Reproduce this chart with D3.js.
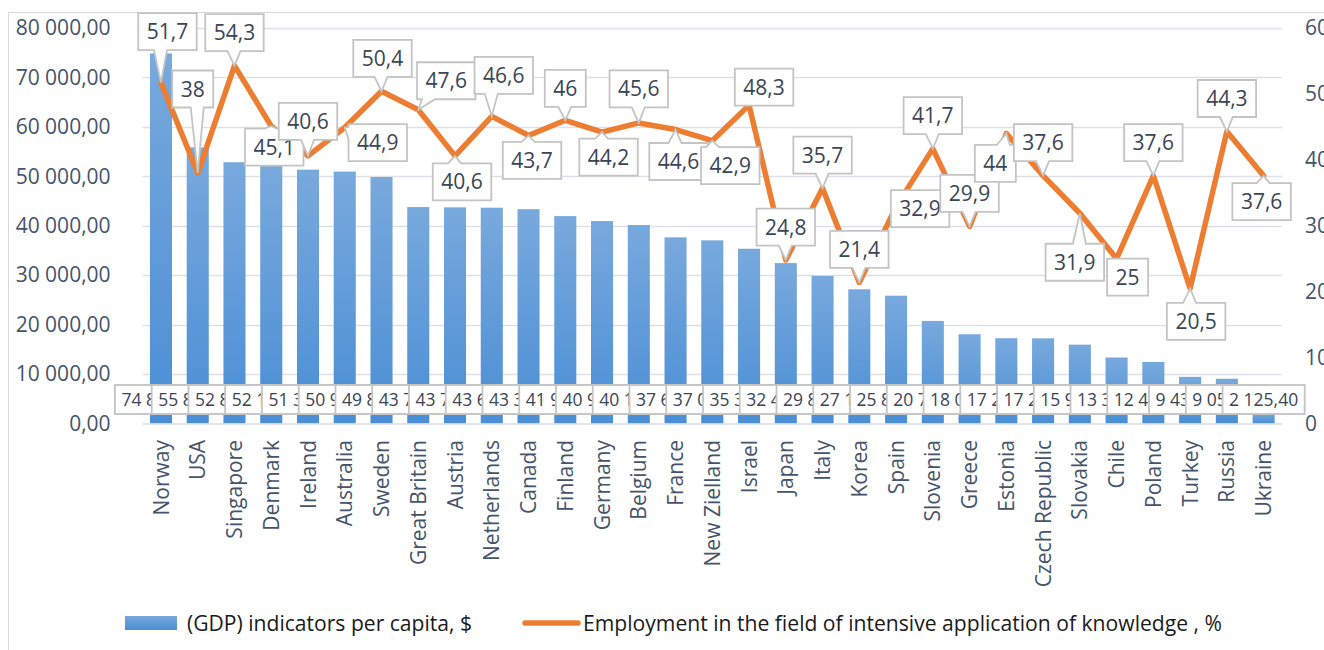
<!DOCTYPE html>
<html>
<head>
<meta charset="utf-8">
<script src="https://cdn.jsdelivr.net/npm/d3@7/dist/d3.min.js"></script>
<style>
  body { margin: 0; background: #fff; }
  svg { display: block; font-family: "Open Sans", sans-serif; }
</style>
</head>
<body>
<svg id="chart" width="1324" height="650"></svg>
<script>
var countries = ["Norway", "USA", "Singapore", "Denmark", "Ireland", "Australia", "Sweden",
  "Great Britain", "Austria", "Netherlands", "Canada", "Finland", "Germany", "Belgium", "France",
  "New Zielland", "Israel", "Japan", "Italy", "Korea", "Spain", "Slovenia", "Greece", "Estonia",
  "Czech Republic", "Slovakia", "Chile", "Poland", "Turkey", "Russia", "Ukraine"];

// GDP per capita, $ (only the leading digits are readable in the picture)
var gdp = [74850, 55850, 52850, 52150, 51350, 50950, 49850, 43780, 43720, 43650, 43350,
  41950, 40950, 40150, 37650, 37050, 35350, 32450, 29850, 27150, 25850, 20750, 18050,
  17250, 17230, 15950, 13350, 12450, 9435, 9055, 2125.40];

// employment in knowledge-intensive fields, %
var employment = [51.7, 38, 54.3, 45.1, 40.6, 44.9, 50.4, 47.6, 40.6, 46.6, 43.7, 46, 44.2,
  45.6, 44.6, 42.9, 48.3, 24.8, 35.7, 21.4, 32.9, 41.7, 29.9, 44, 37.6, 31.9, 25, 37.6,
  20.5, 44.3, 37.6];

var leftTicks = [0, 10000, 20000, 30000, 40000, 50000, 60000, 70000, 80000];
var rightTicks = [0, 10, 20, 30, 40, 50, 60];

var legendNames = ["(GDP) indicators per capita, $",
  "Employment in the field of intensive application of knowledge , %"];

// where each line label box sits, relative to its point (px)
var labelOffsets = [[6.5, -51], [-5, -84], [0, -33], [3, 21], [0, -34.5], [33, 15], [1, -33],
  [28, -29], [7, 26], [12, -41], [3.5, 25], [0, -32], [6.5, 25], [0, -34], [3, 32], [18, 25],
  [15, -18], [0, -33], [0, -33], [0, -33], [24, 2], [0, -33], [0, -33], [-11, 30], [0, -33],
  [-5, 49], [11, 18.5], [0, -33], [6, 33], [0, -33], [-2, 26]];

var svg = d3.select("#chart");
var margin = {left: 142.6, right: 1282, top: 28, bottom: 423.5};
var axisColor = "#44546a", labelColor = "#3a4556";

var loc = d3.formatLocale({decimal: ",", thousands: " ", grouping: [3], currency: ["", "$"]});
var fmtMoney = loc.format(",.2f");

var x = d3.scaleBand().domain(countries).range([margin.left, margin.right])
  .paddingInner(0.4).paddingOuter(0.2);
var yL = d3.scaleLinear().domain([0, 80000]).range([margin.bottom, margin.top]);
var yR = d3.scaleLinear().domain([0, 60]).range([margin.bottom, margin.top]);

// gradient for bars
var defs = svg.append("defs");
var grad = defs.append("linearGradient").attr("id", "barGrad")
  .attr("x1", 0).attr("y1", 0).attr("x2", 0).attr("y2", 1);
grad.append("stop").attr("offset", "0%").attr("stop-color", "#78a9dd");
grad.append("stop").attr("offset", "100%").attr("stop-color", "#4a8ed5");

// chart border
svg.append("rect").attr("x", 8.5).attr("y", 12.5).attr("width", 1330).attr("height", 660)
  .attr("fill", "none").attr("stroke", "#d9d9d9").attr("stroke-width", 1);

// gridlines
svg.append("g").selectAll("line").data(leftTicks.slice(1)).join("line")
  .attr("x1", margin.left).attr("x2", margin.right)
  .attr("y1", function(d) { return Math.round(yL(d)) + 0.5; })
  .attr("y2", function(d) { return Math.round(yL(d)) + 0.5; })
  .attr("stroke", "#dde1e7").attr("stroke-width", 1.5);

// left axis
var axL = svg.append("g").attr("transform", "translate(" + (margin.left - 32) + ",0)")
  .call(d3.axisLeft(yL).tickValues(leftTicks).tickFormat(fmtMoney).tickSize(0).tickPadding(0));
axL.select(".domain").remove();
axL.selectAll("text").attr("fill", axisColor).style("font-size", "21px")
  .style("font-family", "'Open Sans', sans-serif");

// right axis
var axR = svg.append("g").attr("transform", "translate(" + (margin.right + 23) + ",0)")
  .call(d3.axisRight(yR).tickValues(rightTicks).tickSize(0).tickPadding(0));
axR.select(".domain").remove();
axR.selectAll("text").attr("fill", axisColor).style("font-size", "21px")
  .style("font-family", "'Open Sans', sans-serif");

// bars
svg.append("g").selectAll("rect").data(gdp).join("rect")
  .attr("x", function(d, i) { return x(countries[i]); })
  .attr("width", x.bandwidth())
  .attr("y", function(d) { return yL(d); })
  .attr("height", function(d) { return yL(0) - yL(d); })
  .attr("fill", "url(#barGrad)");

// category axis line
svg.append("line").attr("x1", margin.left).attr("x2", margin.right)
  .attr("y1", margin.bottom + 0.5).attr("y2", margin.bottom + 0.5)
  .attr("stroke", "#d9dde3").attr("stroke-width", 1.5);

// category labels
svg.append("g").selectAll("text").data(countries).join("text")
  .attr("transform", function(d) {
    return "translate(" + (x(d) + x.bandwidth() / 2) + ",440) rotate(-90)";
  })
  .attr("text-anchor", "end").attr("dy", "0.36em")
  .attr("fill", axisColor).style("font-size", "21px")
  .text(function(d) { return d; });

// line
var line = d3.line()
  .x(function(d, i) { return x(countries[i]) + x.bandwidth() / 2; })
  .y(function(d) { return yR(d); });
svg.append("path").datum(employment)
  .attr("fill", "none").attr("stroke", "#ed7d31").attr("stroke-width", 5.5)
  .attr("stroke-linejoin", "round").attr("stroke-linecap", "round")
  .attr("d", line);

// bar data labels (each box drawn over the one before)
var barLab = svg.append("g");
gdp.forEach(function(v, i) {
  var cx = x(countries[i]) + x.bandwidth() / 2;
  var g = barLab.append("g");
  var r = g.append("rect");
  var t = g.append("text").attr("x", cx).attr("y", 399.5).attr("dy", "0.36em")
    .attr("text-anchor", "middle").attr("fill", labelColor).style("font-size", "17.5px")
    .text(fmtMoney(v));
  var w = t.node().getComputedTextLength() + 13;
  r.attr("x", cx - w / 2).attr("y", 385).attr("width", w).attr("height", 29)
    .attr("fill", "#fff").attr("stroke", "#c4c4c4").attr("stroke-width", 1.8);
});

// callout shape: box plus a wedge pointing at (px, py)
function callout(cx, cy, w, h, px, py) {
  var x0 = cx - w / 2, x1 = cx + w / 2, y0 = cy - h / 2, y1 = cy + h / 2;
  var cl = function(v, a, b) { return Math.max(a, Math.min(b, v)); };
  var p = [];
  if (py > y1 + 2) {
    var bx = cl(px, x0 + 12, x1 - 12);
    p = [[x0, y0], [x1, y0], [x1, y1], [bx + 6, y1], [px, py], [bx - 7, y1], [x0, y1]];
  } else if (py < y0 - 2) {
    var bx2 = cl(px, x0 + 12, x1 - 12);
    p = [[x0, y0], [bx2 - 7, y0], [px, py], [bx2 + 6, y0], [x1, y0], [x1, y1], [x0, y1]];
  } else if (px < x0 - 2) {
    var by = cl(py, y0 + 9, y1 - 9);
    p = [[x0, y0], [x1, y0], [x1, y1], [x0, y1], [x0, by + 6], [px, py], [x0, by - 6]];
  } else if (px > x1 + 2) {
    var by2 = cl(py, y0 + 9, y1 - 9);
    p = [[x0, y0], [x1, y0], [x1, by2 - 6], [px, py], [x1, by2 + 6], [x1, y1], [x0, y1]];
  } else {
    p = [[x0, y0], [x1, y0], [x1, y1], [x0, y1]];
  }
  return "M" + p.map(function(q) { return q[0] + "," + q[1]; }).join("L") + "Z";
}

// line data labels
var lineLab = svg.append("g");
employment.forEach(function(v, i) {
  var px = x(countries[i]) + x.bandwidth() / 2, py = yR(v);
  var cx = px + labelOffsets[i][0], cy = py + labelOffsets[i][1];
  var g = lineLab.append("g");
  var path = g.append("path");
  var t = g.append("text").attr("x", cx).attr("y", cy).attr("dy", "0.36em")
    .attr("text-anchor", "middle").attr("fill", labelColor).style("font-size", "21px")
    .text(String(v).replace(".", ","));
  var w = t.node().getComputedTextLength() + 17;
  path.attr("d", callout(cx, cy, w, 37, px, py))
    .attr("fill", "#fff").attr("stroke", "#c4c4c4").attr("stroke-width", 1.8)
    .attr("stroke-linejoin", "miter");
});

// legend
var leg = svg.append("g");
leg.append("rect").attr("x", 125).attr("y", 616).attr("width", 52).attr("height", 14)
  .attr("fill", "url(#barGrad)");
leg.append("text").attr("x", 187).attr("y", 623).attr("dy", "0.36em")
  .attr("fill", "#1a1a1a").style("font-size", "21px")
  .attr("textLength", 285).attr("lengthAdjust", "spacingAndGlyphs")
  .text(legendNames[0]);
leg.append("line").attr("x1", 525).attr("x2", 578).attr("y1", 623).attr("y2", 623)
  .attr("stroke", "#ed7d31").attr("stroke-width", 5.5).attr("stroke-linecap", "round");
leg.append("text").attr("x", 583).attr("y", 623).attr("dy", "0.36em")
  .attr("fill", "#1a1a1a").style("font-size", "21px")
  .attr("textLength", 639).attr("lengthAdjust", "spacingAndGlyphs")
  .text(legendNames[1]);
</script>
</body>
</html>
